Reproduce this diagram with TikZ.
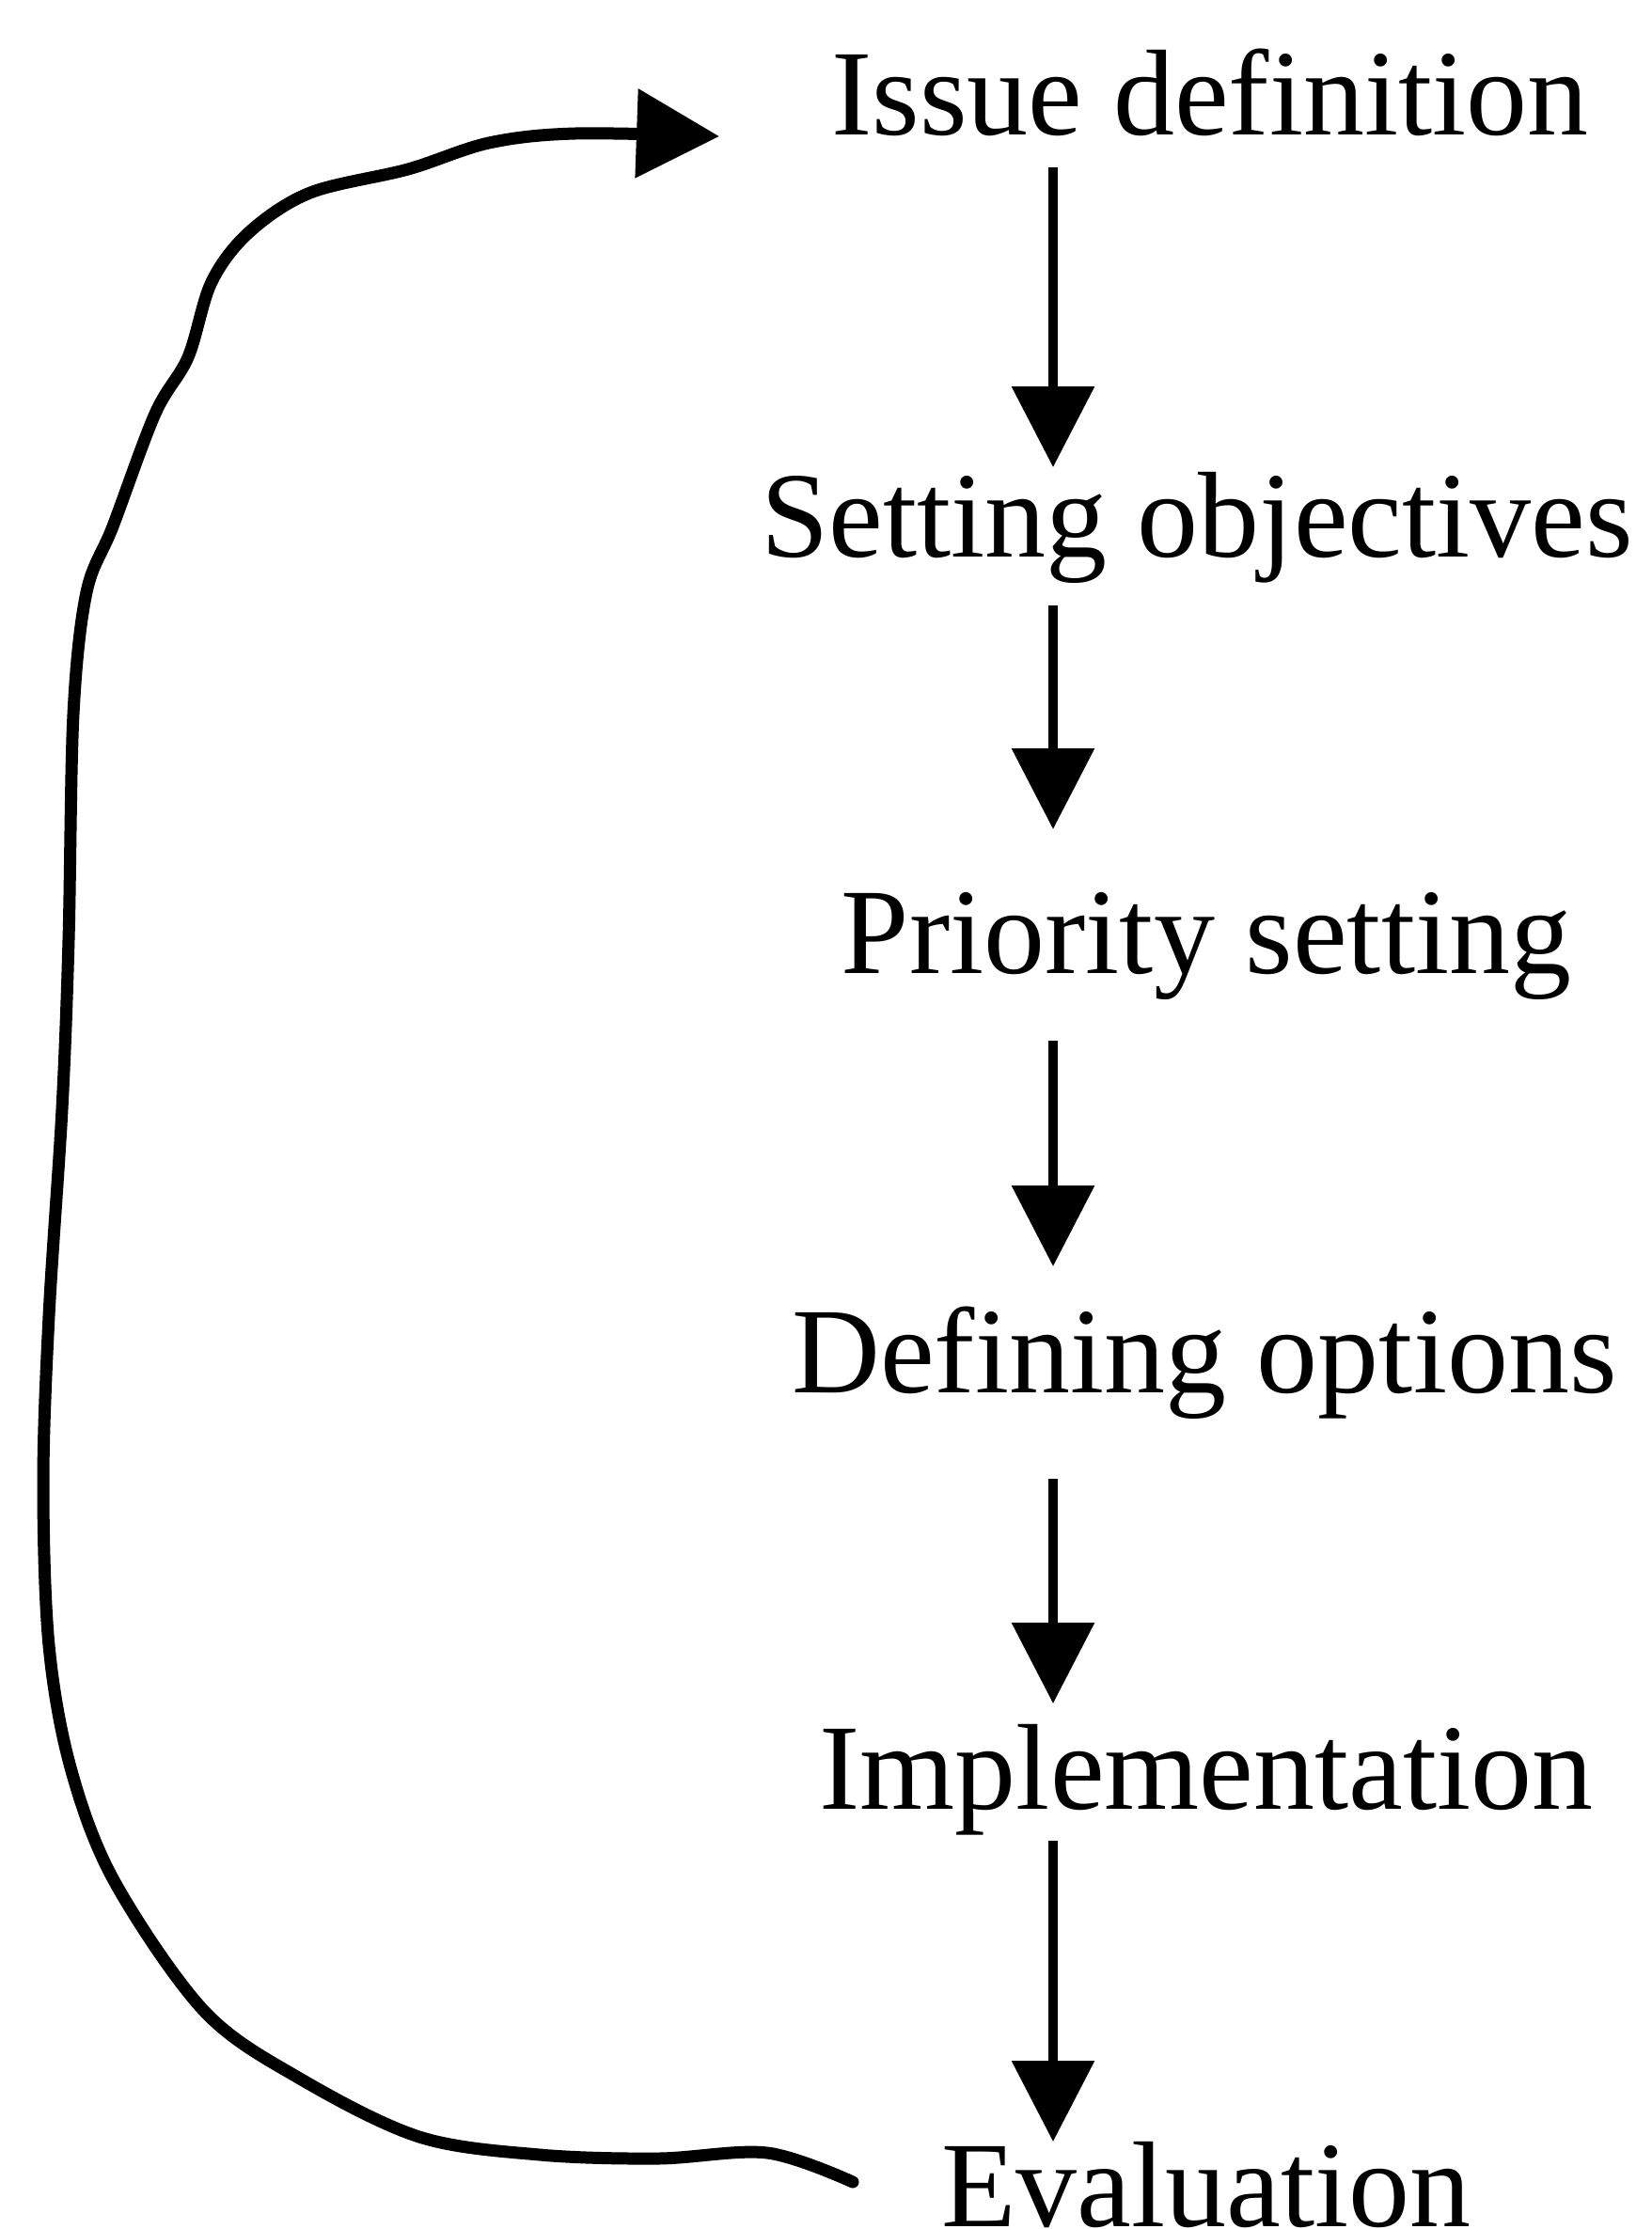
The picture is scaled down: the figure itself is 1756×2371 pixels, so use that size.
\documentclass[tikz,border=0pt]{standalone}
\usepackage{fontspec}
\setmainfont{Liberation Serif}
\usetikzlibrary{arrows.meta}
\begin{document}
\begin{tikzpicture}[x=1pt,y=-1pt,
  stage/.style={anchor=base, inner sep=0pt, font=\fontsize{130}{150}\selectfont},
  flow/.style={line width=10pt, -{Triangle[width=86pt,length=86pt]}},
  feedback/.style={line width=13pt, line cap=round, line join=round,
    -{Triangle[width=92pt,length=88pt]}}]
\useasboundingbox (0,0) rectangle (1756,2371);
\clip (0,0) rectangle (1756,2371);

% stages of the policy cycle
\node[stage] (issue)   at (1287,143)  {Issue definition};
\node[stage] (setting) at (1273,592)  {Setting objectives};
\node[stage] (prior)   at (1283,1035) {Priority setting};
\node[stage] (options) at (1281,1481) {Defining options};
\node[stage] (impl)    at (1283,1924) {Implementation};
\node[stage] (eval)    at (1283,2368) {Evaluation};

% column of the downward arrows
\coordinate (col) at (1120,0);
\draw[flow, shorten <=35pt, shorten >=95pt]  (issue.base -| col)   -- (setting.base -| col);
\draw[flow, shorten <=52pt, shorten >=153pt] (setting.base -| col) -- (prior.base -| col);
\draw[flow, shorten <=72pt, shorten >=134pt] (prior.base -| col)   -- (options.base -| col);
\draw[flow, shorten <=92pt, shorten >=112pt] (options.base -| col) -- (impl.base -| col);
\draw[flow, shorten <=34pt, shorten >=90pt]  (impl.base -| col)    -- (eval.base -| col);

% feedback loop from evaluation back to issue definition
\coordinate (loopstart) at (907,2321);
\coordinate (loopend) at (765,145);
\draw[feedback] plot[smooth, tension=0.55] coordinates {
  (loopstart) (816,2290) (700,2296) (574,2292) (446,2273) (319,2211)
  (217,2139) (121,2000) (75,1880) (52,1750) (46,1578) (52,1400)
  (66,1180) (73,1000) (78,760) (92,630) (120,560) (165,440) (200,380)
  (225,300) (265,247) (330,205) (434,180) (520,152) (612,142) (loopend)};
\end{tikzpicture}
\end{document}
